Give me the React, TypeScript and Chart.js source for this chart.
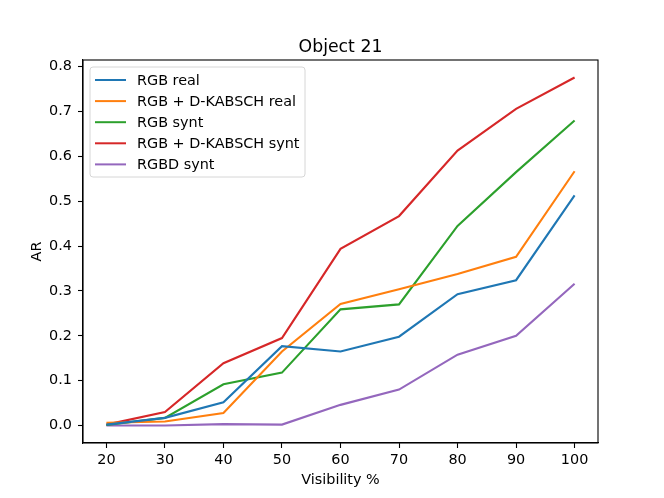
import React, { useEffect, useRef } from "react";
import { Chart, registerables } from "chart.js";

Chart.register(...registerables);

const categories = [20, 30, 40, 50, 60, 70, 80, 90, 100];
const rgbReal = [0.002, 0.017, 0.052, 0.177, 0.165, 0.198, 0.293, 0.324, 0.513];
const rgbKabschReal = [0.006, 0.009, 0.028, 0.165, 0.271, 0.304, 0.338, 0.376, 0.567];
const rgbSynt = [0.001, 0.017, 0.092, 0.118, 0.259, 0.270, 0.445, 0.565, 0.680];
const rgbKabschSynt = [0.002, 0.030, 0.139, 0.195, 0.394, 0.467, 0.613, 0.706, 0.776];
const rgbdSynt = [0.0, 0.0, 0.003, 0.002, 0.046, 0.080, 0.158, 0.200, 0.316];

const seriesLabels = ["RGB real", "RGB + D-KABSCH real", "RGB synt", "RGB + D-KABSCH synt", "RGBD synt"];
const seriesValues = [rgbReal, rgbKabschReal, rgbSynt, rgbKabschSynt, rgbdSynt];
const seriesColors = ["#1f77b4", "#ff7f0e", "#2ca02c", "#d62728", "#9467bd"];

const xTicks = [20, 30, 40, 50, 60, 70, 80, 90, 100];
const yTicks = [0.0, 0.1, 0.2, 0.3, 0.4, 0.5, 0.6, 0.7, 0.8];

const title = "Object 21";
const xLabel = "Visibility %";
const yLabel = "AR";

const FONT = "'DejaVu Sans', sans-serif";
const W = 664;
const H = 498;

export default function App() {
  const ref = useRef<HTMLCanvasElement | null>(null);

  useEffect(() => {
    if (!ref.current) return;

    const decorPlugin = {
      id: "decor",
      afterDraw(chart: any) {
        const { ctx, chartArea } = chart;
        const { left, right, top, bottom } = chartArea;
        ctx.save();
        // frame
        ctx.strokeStyle = "#000";
        ctx.lineWidth = 1.1;
        ctx.strokeRect(left, top, right - left, bottom - top);

        // title
        ctx.fillStyle = "#000";
        ctx.font = `17.3px ${FONT}`;
        ctx.textAlign = "center";
        ctx.textBaseline = "alphabetic";
        ctx.fillText(title, (left + right) / 2, top - 8);

        // x label
        ctx.font = `14.4px ${FONT}`;
        ctx.textBaseline = "alphabetic";
        ctx.fillText(xLabel, (left + right) / 2, 484);

        // y label
        ctx.save();
        ctx.translate(41, (top + bottom) / 2);
        ctx.rotate(-Math.PI / 2);
        ctx.textAlign = "center";
        ctx.textBaseline = "alphabetic";
        ctx.fillText(yLabel, 0, 0);
        ctx.restore();

        // legend
        const lx = left + 7;
        const ly = top + 7;
        const lw = 215;
        const lh = 110;
        const r = 3;
        ctx.beginPath();
        ctx.moveTo(lx + r, ly);
        ctx.lineTo(lx + lw - r, ly);
        ctx.arcTo(lx + lw, ly, lx + lw, ly + r, r);
        ctx.lineTo(lx + lw, ly + lh - r);
        ctx.arcTo(lx + lw, ly + lh, lx + lw - r, ly + lh, r);
        ctx.lineTo(lx + r, ly + lh);
        ctx.arcTo(lx, ly + lh, lx, ly + lh - r, r);
        ctx.lineTo(lx, ly + r);
        ctx.arcTo(lx, ly, lx + r, ly, r);
        ctx.closePath();
        ctx.fillStyle = "rgba(255,255,255,0.8)";
        ctx.fill();
        ctx.strokeStyle = "#d6d6d6";
        ctx.lineWidth = 1;
        ctx.stroke();

        ctx.font = `14.4px ${FONT}`;
        ctx.textAlign = "left";
        ctx.textBaseline = "middle";
        chart.data.datasets.forEach((ds: any, i: number) => {
          const cy = ly + 13 + i * 21.1;
          ctx.strokeStyle = ds.borderColor;
          ctx.lineWidth = 2;
          ctx.beginPath();
          ctx.moveTo(lx + 5, cy);
          ctx.lineTo(lx + 36, cy);
          ctx.stroke();
          ctx.fillStyle = "#000";
          ctx.fillText(ds.label, lx + 47, cy + 1);
        });
        ctx.restore();
      },
    };

    const chart = new Chart(ref.current, {
      type: "line",
      data: {
        datasets: seriesValues.map((vals, i) => ({
          label: seriesLabels[i],
          data: categories.map((c, j) => ({ x: c, y: vals[j] })),
          borderColor: seriesColors[i],
          backgroundColor: seriesColors[i],
          borderWidth: 2.1,
          pointRadius: 0,
          tension: 0,
          fill: false,
        })),
      },
      options: {
        animation: false,
        responsive: false,
        devicePixelRatio: 1,
        layout: { padding: { top: 60, right: 66, bottom: 0, left: 0 } },
        plugins: {
          legend: { display: false },
          title: { display: false },
          tooltip: { enabled: false },
        },
        scales: {
          x: {
            type: "linear",
            min: 16,
            max: 104,
            afterFit: (s: any) => {
              s.height = H - 443;
            },
            afterBuildTicks: (s: any) => {
              s.ticks = xTicks.map((v) => ({ value: v }));
            },
            grid: {
              drawOnChartArea: false,
              drawTicks: true,
              tickLength: 5,
              tickColor: "#000",
              tickWidth: 1.1,
            },
            border: { display: true, color: "#000", width: 1.1 },
            ticks: {
              color: "#000",
              font: { family: FONT, size: 14.4 },
              padding: 4,
              maxRotation: 0,
              autoSkip: false,
              callback: (v: any) => String(v),
            },
          },
          y: {
            type: "linear",
            min: -0.039,
            max: 0.815,
            afterFit: (s: any) => {
              s.width = 83;
            },
            afterBuildTicks: (s: any) => {
              s.ticks = yTicks.map((v) => ({ value: v }));
            },
            grid: {
              drawOnChartArea: false,
              drawTicks: true,
              tickLength: 5,
              tickColor: "#000",
              tickWidth: 1.1,
            },
            border: { display: true, color: "#000", width: 1.1 },
            ticks: {
              color: "#000",
              font: { family: FONT, size: 14.4 },
              padding: 6,
              autoSkip: false,
              callback: (v: any) => Number(v).toFixed(1),
            },
          },
        },
      },
      plugins: [decorPlugin],
    });

    return () => chart.destroy();
  }, []);

  return (
    <div style={{ position: "absolute", left: 0, top: 0, width: W, height: H, background: "#fff" }}>
      <canvas ref={ref} width={W} height={H} style={{ display: "block", width: W, height: H }} />
    </div>
  );
}
